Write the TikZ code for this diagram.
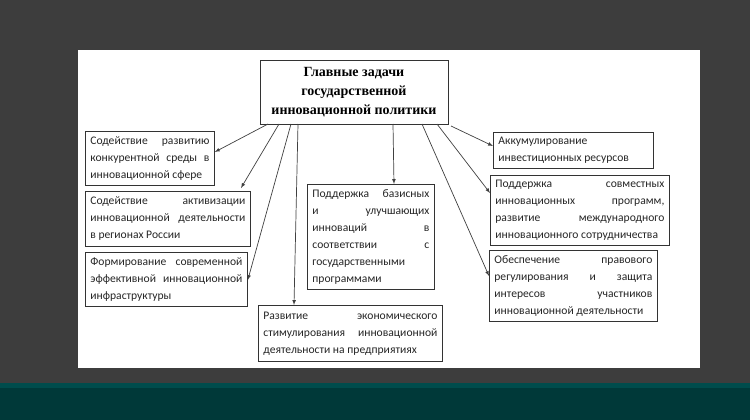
\documentclass[tikz,border=0pt]{standalone}
\usepackage{fontspec}
\setmainfont{Carlito}
\newfontfamily\titlefont{Liberation Serif}
\begin{document}
\begin{tikzpicture}[x=1pt,y=-1pt,
  bx/.style={draw=black!80,line width=0.8pt,fill=white,anchor=north west,align=justify,inner sep=5pt,font=\fontsize{11.6}{17}\selectfont,text=black!85},
  ar/.style={-latex,line width=0.7pt,black!75}]
\fill[black!76] (0,0) rectangle (750,420);
\fill[white] (78,50) rectangle (700,368);
\fill[teal!60!black] (0,383) rectangle (750,388);
\fill[teal!45!black] (0,388) rectangle (750,420);
\node[draw=black!80,line width=0.8pt,align=center,minimum width=188pt,minimum height=64pt,font=\titlefont\bfseries\fontsize{14}{19}\selectfont] (T) at (354,92) {Главные задачи\\государственной\\инновационной политики};
\node[bx,text width=119pt,minimum height=54pt] (A) at (85,131) {Содействие развитию\linebreak конкурентной среды в\linebreak инновационной сфере};
\node[bx,text width=155pt,minimum height=55pt] (B) at (85,191) {Содействие активизации\linebreak инновационной деятельности\linebreak в регионах России};
\node[bx,text width=152pt,minimum height=50pt] (C) at (85,252) {Формирование современной\linebreak эффективной инновационной\linebreak инфраструктуры};
\node[bx,text width=117pt,minimum height=97pt] (D) at (307,184) {Поддержка базисных\linebreak и улучшающих\linebreak инноваций в\linebreak соответствии с\linebreak государственными\newline программами};
\node[bx,text width=174pt,minimum height=56pt] (E) at (258,305) {Развитие экономического\linebreak стимулирования инновационной\linebreak деятельности на предприятиях};
\node[bx,text width=150pt,minimum height=35pt] (F) at (493,132) {Аккумулирование\newline инвестиционных ресурсов};
\node[bx,text width=169pt,minimum height=69pt] (G) at (490,175) {Поддержка совместных\linebreak инновационных программ,\linebreak развитие международного\linebreak инновационного сотрудничества};
\node[bx,text width=158pt,minimum height=68pt] (H) at (489,250) {Обеспечение правового\linebreak регулирования и защита\linebreak интересов участников\linebreak инновационной деятельности};
\coordinate (ta) at (268,124); \coordinate (tb) at (279,124); \coordinate (tc) at (291,124); \coordinate (te) at (298,124);
\coordinate (td) at (393,124); \coordinate (th) at (422,124); \coordinate (tg) at (437,124); \coordinate (tf) at (451,126);
\draw[ar] (ta) -- (A.east |- 0,152);
\draw[ar] (tb) -- (241,188);
\draw[ar] (tc) -- (C.east |- 0,280);
\draw[ar] (te) -- (E.north -| 294,0);
\draw[ar] (td) -- (D.north -| 394,0);
\draw[ar] (th) -- (H.west |- 0,276);
\draw[ar] (tg) -- (G.west |- 0,193);
\draw[ar] (tf) -- (F.west |- 0,146);
\end{tikzpicture}
\end{document}
